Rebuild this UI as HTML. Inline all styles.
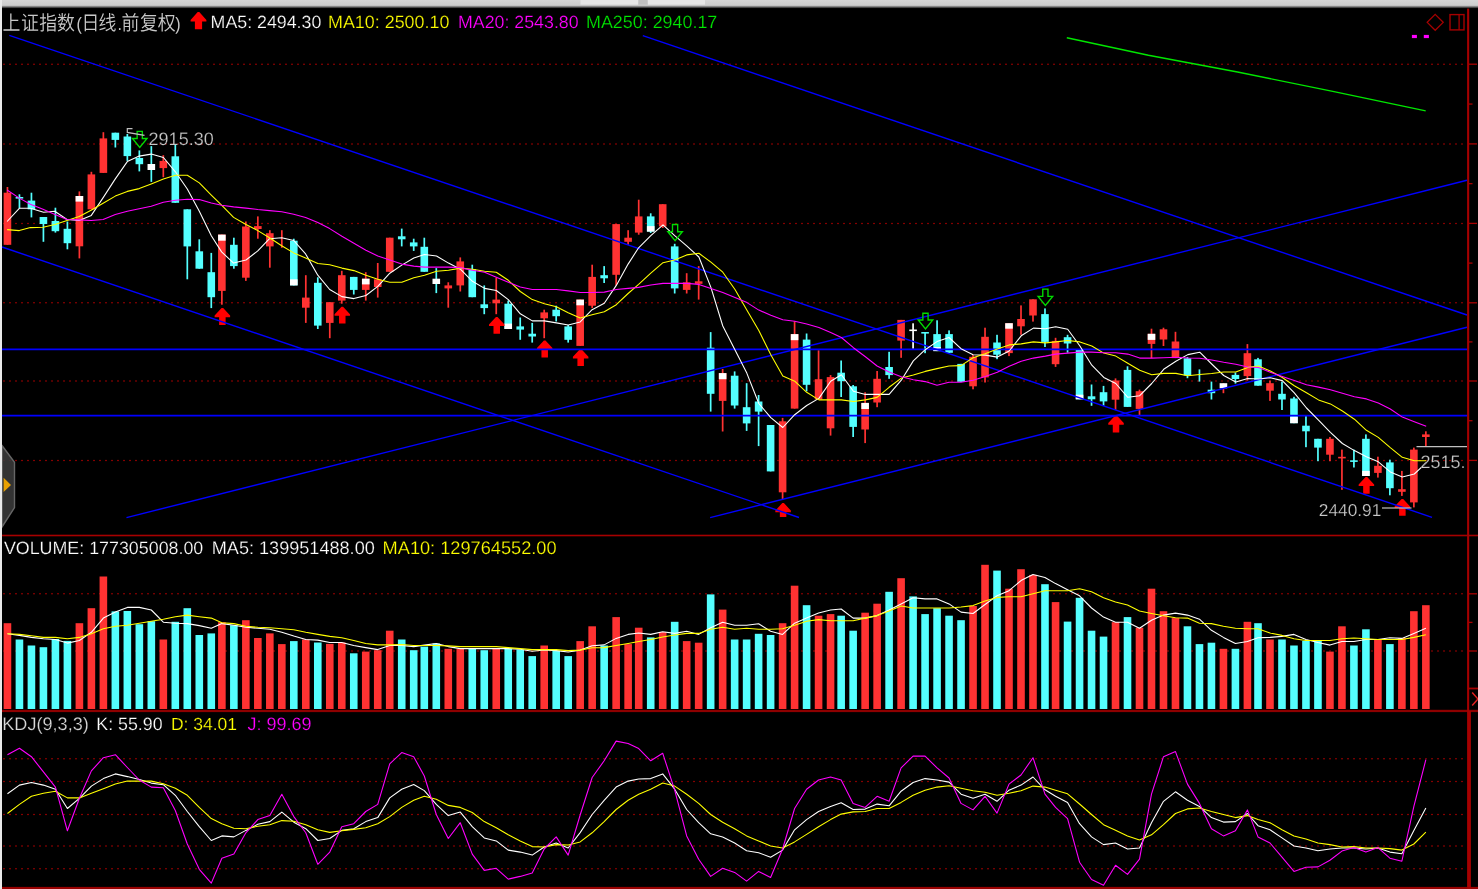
<!DOCTYPE html><html><head><meta charset="utf-8"><title>K</title><style>
html,body{margin:0;padding:0;background:#000;}body{width:1478px;height:889px;overflow:hidden;position:relative;}
svg{position:absolute;left:0;top:0;display:block;will-change:transform;}text{text-rendering:geometricPrecision;}
text{font-family:"Liberation Sans","Noto Sans CJK SC",sans-serif;}
.t{font-size:17.8px;stroke:#000;stroke-width:0.22px;}.cj{font-family:"Liberation Sans","Noto Sans CJK SC",sans-serif;font-weight:350;font-size:17.9px;}.pl{font-family:"Liberation Sans",sans-serif;font-size:16px;font-weight:400;}
.an{font-size:18px;fill:#C8C8C8;stroke:#000;stroke-width:0.22px;}
</style></head><body>
<svg width="1478" height="889" viewBox="0 0 1478 889">
<defs><linearGradient id="tg" x1="0" y1="0" x2="0" y2="1"><stop offset="0" stop-color="#D6D6D6"/><stop offset="0.62" stop-color="#CDCDCD"/><stop offset="0.8" stop-color="#707070"/><stop offset="1" stop-color="#000"/></linearGradient></defs>
<rect x="0" y="0" width="1478" height="889" fill="#000"/>
<g shape-rendering="auto">
<line x1="4" y1="64.2" x2="1463" y2="64.2" stroke="#C80000" stroke-width="1.5" stroke-linecap="round" stroke-dasharray="0.01 5.99"/>
<line x1="4" y1="143.9" x2="1463" y2="143.9" stroke="#C80000" stroke-width="1.5" stroke-linecap="round" stroke-dasharray="0.01 5.99"/>
<line x1="4" y1="223.4" x2="1463" y2="223.4" stroke="#C80000" stroke-width="1.5" stroke-linecap="round" stroke-dasharray="0.01 5.99"/>
<line x1="4" y1="302.8" x2="1463" y2="302.8" stroke="#C80000" stroke-width="1.5" stroke-linecap="round" stroke-dasharray="0.01 5.99"/>
<line x1="4" y1="381" x2="1463" y2="381" stroke="#C80000" stroke-width="1.5" stroke-linecap="round" stroke-dasharray="0.01 5.99"/>
<line x1="4" y1="460.4" x2="1463" y2="460.4" stroke="#C80000" stroke-width="1.5" stroke-linecap="round" stroke-dasharray="0.01 5.99"/>
<line x1="4" y1="593.8" x2="1463" y2="593.8" stroke="#C80000" stroke-width="1.5" stroke-linecap="round" stroke-dasharray="0.01 5.99"/>
<line x1="4" y1="651" x2="1463" y2="651" stroke="#C80000" stroke-width="1.5" stroke-linecap="round" stroke-dasharray="0.01 5.99"/>
<line x1="4" y1="758.7" x2="1463" y2="758.7" stroke="#C80000" stroke-width="1.5" stroke-linecap="round" stroke-dasharray="0.01 5.99"/>
<line x1="4" y1="781.5" x2="1463" y2="781.5" stroke="#C80000" stroke-width="1.5" stroke-linecap="round" stroke-dasharray="0.01 5.99"/>
<line x1="4" y1="814.5" x2="1463" y2="814.5" stroke="#C80000" stroke-width="1.5" stroke-linecap="round" stroke-dasharray="0.01 5.99"/>
<line x1="4" y1="846" x2="1463" y2="846" stroke="#C80000" stroke-width="1.5" stroke-linecap="round" stroke-dasharray="0.01 5.99"/>
<line x1="4" y1="868.7" x2="1463" y2="868.7" stroke="#C80000" stroke-width="1.5" stroke-linecap="round" stroke-dasharray="0.01 5.99"/>
</g>
<g id="candles">
<rect x="6.6" y="187" width="1.7" height="57.8" fill="#FF3232"/>
<rect x="3.65" y="192.7" width="7.6" height="52.1" fill="#FF3232"/>
<rect x="18.59" y="194.3" width="1.7" height="13.9" fill="#54FFFF"/>
<rect x="15.64" y="197" width="7.6" height="1.6" fill="#54FFFF"/>
<rect x="30.58" y="192.7" width="1.7" height="24.7" fill="#54FFFF"/>
<rect x="27.63" y="200.6" width="7.6" height="8.7" fill="#54FFFF"/>
<rect x="42.57" y="217" width="1.7" height="24.8" fill="#54FFFF"/>
<rect x="39.62" y="217" width="7.6" height="7" fill="#54FFFF"/>
<rect x="54.56" y="207.7" width="1.7" height="24.9" fill="#54FFFF"/>
<rect x="51.61" y="221" width="7.6" height="10.2" fill="#54FFFF"/>
<rect x="66.55" y="221.5" width="1.7" height="27.8" fill="#54FFFF"/>
<rect x="63.6" y="228.8" width="7.6" height="14.4" fill="#54FFFF"/>
<rect x="78.54" y="191.4" width="1.7" height="67" fill="#FF3232"/>
<rect x="75.59" y="196" width="7.6" height="50.3" fill="#FF3232"/>
<rect x="75.59" y="196" width="7.6" height="5.6" fill="#fff"/>
<rect x="90.53" y="171.8" width="1.7" height="37.5" fill="#FF3232"/>
<rect x="87.58" y="174.4" width="7.6" height="34.9" fill="#FF3232"/>
<rect x="102.52" y="132.2" width="1.7" height="40.7" fill="#FF3232"/>
<rect x="99.57" y="138.4" width="7.6" height="34.5" fill="#FF3232"/>
<rect x="114.51" y="132.7" width="1.7" height="14.8" fill="#54FFFF"/>
<rect x="111.56" y="132.7" width="7.6" height="7.2" fill="#54FFFF"/>
<rect x="126.5" y="134" width="1.7" height="26.9" fill="#54FFFF"/>
<rect x="123.55" y="136.5" width="7.6" height="19.6" fill="#54FFFF"/>
<rect x="138.49" y="150.4" width="1.7" height="21" fill="#54FFFF"/>
<rect x="135.54" y="158" width="7.6" height="6.2" fill="#54FFFF"/>
<rect x="150.48" y="146.1" width="1.7" height="35.8" fill="#54FFFF"/>
<rect x="147.53" y="164" width="7.6" height="6" fill="#FFFFFF"/>
<rect x="162.47" y="155.2" width="1.7" height="22" fill="#FF3232"/>
<rect x="159.52" y="160.9" width="7.6" height="7.2" fill="#FF3232"/>
<rect x="174.46" y="144.6" width="1.7" height="58.2" fill="#54FFFF"/>
<rect x="171.51" y="156.3" width="7.6" height="46.5" fill="#54FFFF"/>
<rect x="186.45" y="209.3" width="1.7" height="70" fill="#54FFFF"/>
<rect x="183.5" y="209.3" width="7.6" height="37.1" fill="#54FFFF"/>
<rect x="198.44" y="239.3" width="1.7" height="29.4" fill="#54FFFF"/>
<rect x="195.49" y="251.3" width="7.6" height="17.4" fill="#54FFFF"/>
<rect x="210.43" y="252.9" width="1.7" height="55.2" fill="#54FFFF"/>
<rect x="207.48" y="272.2" width="7.6" height="25" fill="#54FFFF"/>
<rect x="221.02" y="234.6" width="1.7" height="70.1" fill="#FF3232"/>
<rect x="218.07" y="234.6" width="7.6" height="56.3" fill="#FF3232"/>
<rect x="218.07" y="234.6" width="7.6" height="6.1" fill="#fff"/>
<rect x="233.01" y="237.7" width="1.7" height="31" fill="#54FFFF"/>
<rect x="230.06" y="244.8" width="7.6" height="21.3" fill="#54FFFF"/>
<rect x="245" y="221.5" width="1.7" height="59.4" fill="#FF3232"/>
<rect x="242.05" y="226.5" width="7.6" height="51.2" fill="#FF3232"/>
<rect x="256.99" y="216.4" width="1.7" height="22.3" fill="#FF3232"/>
<rect x="254.04" y="226.1" width="7.6" height="2.9" fill="#FF3232"/>
<rect x="268.98" y="230.2" width="1.7" height="37.5" fill="#FF3232"/>
<rect x="266.03" y="233.2" width="7.6" height="13.2" fill="#FF3232"/>
<rect x="280.97" y="230.2" width="1.7" height="17.6" fill="#FF3232"/>
<rect x="292.96" y="238.7" width="1.7" height="46.7" fill="#54FFFF"/>
<rect x="290.01" y="240.7" width="7.6" height="44.7" fill="#54FFFF"/>
<rect x="290.01" y="279.3" width="7.6" height="6.1" fill="#fff"/>
<rect x="304.95" y="275.2" width="1.7" height="47.7" fill="#FF3232"/>
<rect x="302" y="297.6" width="7.6" height="10.1" fill="#FF3232"/>
<rect x="316.94" y="277.3" width="1.7" height="51.7" fill="#54FFFF"/>
<rect x="313.99" y="282.8" width="7.6" height="42.8" fill="#54FFFF"/>
<rect x="328.93" y="302.2" width="1.7" height="36" fill="#FF3232"/>
<rect x="325.98" y="302.2" width="7.6" height="20.7" fill="#FF3232"/>
<rect x="340.92" y="270.8" width="1.7" height="32.9" fill="#FF3232"/>
<rect x="337.97" y="275.2" width="7.6" height="25.4" fill="#FF3232"/>
<rect x="352.91" y="276.9" width="1.7" height="17.6" fill="#54FFFF"/>
<rect x="349.96" y="276.9" width="7.6" height="13" fill="#54FFFF"/>
<rect x="364.9" y="272.2" width="1.7" height="28.4" fill="#FF3232"/>
<rect x="361.95" y="278.7" width="7.6" height="11.2" fill="#FF3232"/>
<rect x="361.95" y="278.7" width="7.6" height="5.7" fill="#fff"/>
<rect x="376.89" y="263" width="1.7" height="34.6" fill="#FF3232"/>
<rect x="373.94" y="279.3" width="7.6" height="7.7" fill="#FF3232"/>
<rect x="388.88" y="237.7" width="1.7" height="34.1" fill="#FF3232"/>
<rect x="385.93" y="237.7" width="7.6" height="34.1" fill="#FF3232"/>
<rect x="400.87" y="228.6" width="1.7" height="17.8" fill="#54FFFF"/>
<rect x="397.92" y="236.3" width="7.6" height="3" fill="#54FFFF"/>
<rect x="412.86" y="238.7" width="1.7" height="12.2" fill="#54FFFF"/>
<rect x="409.91" y="242.4" width="7.6" height="4" fill="#54FFFF"/>
<rect x="423.45" y="237.7" width="1.7" height="34.1" fill="#54FFFF"/>
<rect x="420.5" y="246.8" width="7.6" height="25" fill="#54FFFF"/>
<rect x="435.44" y="268.1" width="1.7" height="25" fill="#54FFFF"/>
<rect x="432.49" y="278.7" width="7.6" height="5.3" fill="#FFFFFF"/>
<rect x="447.43" y="282.3" width="1.7" height="25.4" fill="#FF3232"/>
<rect x="444.48" y="285.4" width="7.6" height="3" fill="#FF3232"/>
<rect x="459.42" y="257.4" width="1.7" height="34.1" fill="#FF3232"/>
<rect x="456.47" y="261.4" width="7.6" height="24" fill="#FF3232"/>
<rect x="471.41" y="264.7" width="1.7" height="32.5" fill="#54FFFF"/>
<rect x="468.46" y="269.2" width="7.6" height="28" fill="#54FFFF"/>
<rect x="483.4" y="285.4" width="1.7" height="28.8" fill="#54FFFF"/>
<rect x="480.45" y="304.3" width="7.6" height="3.8" fill="#54FFFF"/>
<rect x="495.39" y="277.7" width="1.7" height="36.5" fill="#FF3232"/>
<rect x="492.44" y="299.6" width="7.6" height="3.7" fill="#FF3232"/>
<rect x="507.38" y="300.6" width="1.7" height="28.4" fill="#54FFFF"/>
<rect x="504.43" y="303.7" width="7.6" height="25.3" fill="#54FFFF"/>
<rect x="504.43" y="323.6" width="7.6" height="5.4" fill="#fff"/>
<rect x="519.37" y="317.5" width="1.7" height="22.3" fill="#54FFFF"/>
<rect x="516.42" y="326.4" width="7.6" height="3.2" fill="#54FFFF"/>
<rect x="531.36" y="322.9" width="1.7" height="19.7" fill="#54FFFF"/>
<rect x="528.41" y="333.7" width="7.6" height="2.8" fill="#54FFFF"/>
<rect x="543.35" y="309.7" width="1.7" height="28.5" fill="#FF3232"/>
<rect x="540.4" y="312.4" width="7.6" height="5.9" fill="#FF3232"/>
<rect x="555.34" y="305.7" width="1.7" height="15.8" fill="#54FFFF"/>
<rect x="552.39" y="309.7" width="7.6" height="6.5" fill="#54FFFF"/>
<rect x="567.33" y="325" width="1.7" height="17.6" fill="#54FFFF"/>
<rect x="564.38" y="326.4" width="7.6" height="13.4" fill="#54FFFF"/>
<rect x="579.32" y="299.6" width="1.7" height="46.3" fill="#FF3232"/>
<rect x="576.37" y="299.6" width="7.6" height="46.3" fill="#FF3232"/>
<rect x="576.37" y="299.6" width="7.6" height="5.7" fill="#fff"/>
<rect x="591.31" y="264.7" width="1.7" height="43.4" fill="#FF3232"/>
<rect x="588.36" y="276.9" width="7.6" height="28.8" fill="#FF3232"/>
<rect x="603.3" y="266.1" width="1.7" height="16.9" fill="#54FFFF"/>
<rect x="600.35" y="275.2" width="7.6" height="3.1" fill="#54FFFF"/>
<rect x="615.29" y="224.1" width="1.7" height="61.3" fill="#FF3232"/>
<rect x="612.34" y="224.1" width="7.6" height="50.7" fill="#FF3232"/>
<rect x="627.28" y="230.2" width="1.7" height="14.6" fill="#FF3232"/>
<rect x="624.33" y="237.7" width="7.6" height="4.1" fill="#FF3232"/>
<rect x="637.87" y="199.7" width="1.7" height="35" fill="#FF3232"/>
<rect x="634.92" y="216.4" width="7.6" height="16.2" fill="#FF3232"/>
<rect x="649.86" y="213.3" width="1.7" height="19.7" fill="#54FFFF"/>
<rect x="646.91" y="216.4" width="7.6" height="15.2" fill="#54FFFF"/>
<rect x="646.91" y="226.1" width="7.6" height="5.5" fill="#fff"/>
<rect x="661.85" y="204.2" width="1.7" height="23.8" fill="#FF3232"/>
<rect x="658.9" y="204.2" width="7.6" height="22.3" fill="#FF3232"/>
<rect x="673.84" y="243.8" width="1.7" height="49.7" fill="#54FFFF"/>
<rect x="670.89" y="246.4" width="7.6" height="42" fill="#54FFFF"/>
<rect x="685.83" y="273.2" width="1.7" height="20.3" fill="#FF3232"/>
<rect x="682.88" y="282.3" width="7.6" height="7.6" fill="#FF3232"/>
<rect x="697.82" y="266.1" width="1.7" height="33.5" fill="#FF3232"/>
<rect x="694.87" y="281.3" width="7.6" height="2.5" fill="#FF3232"/>
<rect x="709.81" y="332.1" width="1.7" height="79.5" fill="#54FFFF"/>
<rect x="706.86" y="347.7" width="7.6" height="46.1" fill="#54FFFF"/>
<rect x="721.8" y="369" width="1.7" height="62.5" fill="#FF3232"/>
<rect x="718.85" y="373.1" width="7.6" height="27.8" fill="#FF3232"/>
<rect x="718.85" y="373.1" width="7.6" height="6.1" fill="#fff"/>
<rect x="733.79" y="371.4" width="1.7" height="37.2" fill="#54FFFF"/>
<rect x="730.84" y="375.7" width="7.6" height="29.8" fill="#54FFFF"/>
<rect x="745.78" y="383.2" width="1.7" height="47.7" fill="#54FFFF"/>
<rect x="742.83" y="407.2" width="7.6" height="16.2" fill="#54FFFF"/>
<rect x="757.77" y="395" width="1.7" height="51.1" fill="#54FFFF"/>
<rect x="754.82" y="401.5" width="7.6" height="10.1" fill="#54FFFF"/>
<rect x="769.76" y="425" width="1.7" height="46.4" fill="#54FFFF"/>
<rect x="766.81" y="425" width="7.6" height="46.4" fill="#54FFFF"/>
<rect x="781.75" y="417.9" width="1.7" height="81.6" fill="#FF3232"/>
<rect x="778.8" y="421.3" width="7.6" height="71" fill="#FF3232"/>
<rect x="793.74" y="321.3" width="1.7" height="87.3" fill="#FF3232"/>
<rect x="790.79" y="334.1" width="7.6" height="74.5" fill="#FF3232"/>
<rect x="790.79" y="334.1" width="7.6" height="6.1" fill="#fff"/>
<rect x="805.73" y="333.5" width="1.7" height="57.8" fill="#54FFFF"/>
<rect x="802.78" y="339.6" width="7.6" height="45.2" fill="#54FFFF"/>
<rect x="817.72" y="350.3" width="1.7" height="49.2" fill="#FF3232"/>
<rect x="814.77" y="379.2" width="7.6" height="20.3" fill="#FF3232"/>
<rect x="829.71" y="375.1" width="1.7" height="60.5" fill="#FF3232"/>
<rect x="826.76" y="377.1" width="7.6" height="51.2" fill="#FF3232"/>
<rect x="840.3" y="360.5" width="1.7" height="36.5" fill="#54FFFF"/>
<rect x="837.35" y="372.7" width="7.6" height="8.5" fill="#54FFFF"/>
<rect x="852.29" y="385" width="1.7" height="52" fill="#54FFFF"/>
<rect x="849.34" y="386.3" width="7.6" height="40.6" fill="#54FFFF"/>
<rect x="864.28" y="392.3" width="1.7" height="50.8" fill="#FF3232"/>
<rect x="861.33" y="402.9" width="7.6" height="26.6" fill="#FF3232"/>
<rect x="861.33" y="402.9" width="7.6" height="6.1" fill="#fff"/>
<rect x="876.27" y="371" width="1.7" height="36.2" fill="#FF3232"/>
<rect x="873.32" y="378.8" width="7.6" height="23.7" fill="#FF3232"/>
<rect x="888.26" y="351.8" width="1.7" height="27" fill="#54FFFF"/>
<rect x="885.31" y="367" width="7.6" height="8.1" fill="#54FFFF"/>
<rect x="900.25" y="319.9" width="1.7" height="37.9" fill="#FF3232"/>
<rect x="897.3" y="319.9" width="7.6" height="20.7" fill="#FF3232"/>
<rect x="912.24" y="323.3" width="1.7" height="25.4" fill="#FFFFFF"/>
<rect x="909.29" y="329.5" width="7.6" height="1.6" fill="#FFFFFF"/>
<rect x="924.23" y="332" width="1.7" height="21.2" fill="#54FFFF"/>
<rect x="921.28" y="332" width="7.6" height="1.6" fill="#54FFFF"/>
<rect x="936.22" y="320.3" width="1.7" height="30.8" fill="#54FFFF"/>
<rect x="933.27" y="334.1" width="7.6" height="17" fill="#54FFFF"/>
<rect x="933.27" y="347.1" width="7.6" height="4" fill="#fff"/>
<rect x="948.21" y="330.4" width="1.7" height="22.4" fill="#54FFFF"/>
<rect x="945.26" y="334.1" width="7.6" height="18.7" fill="#54FFFF"/>
<rect x="960.2" y="363.9" width="1.7" height="17.9" fill="#54FFFF"/>
<rect x="957.25" y="363.9" width="7.6" height="17.9" fill="#54FFFF"/>
<rect x="972.19" y="355" width="1.7" height="34.3" fill="#FF3232"/>
<rect x="969.24" y="356.8" width="7.6" height="29.5" fill="#FF3232"/>
<rect x="984.18" y="327.7" width="1.7" height="54.8" fill="#FF3232"/>
<rect x="981.23" y="336.8" width="7.6" height="40.6" fill="#FF3232"/>
<rect x="996.17" y="334.8" width="1.7" height="24.4" fill="#54FFFF"/>
<rect x="993.22" y="342.5" width="7.6" height="12.2" fill="#54FFFF"/>
<rect x="1008.16" y="323.2" width="1.7" height="32.9" fill="#FF3232"/>
<rect x="1005.21" y="323.2" width="7.6" height="29.9" fill="#FF3232"/>
<rect x="1005.21" y="323.2" width="7.6" height="5.5" fill="#fff"/>
<rect x="1020.15" y="305.4" width="1.7" height="29.4" fill="#FF3232"/>
<rect x="1017.2" y="319" width="7.6" height="7.3" fill="#FF3232"/>
<rect x="1032.14" y="299.3" width="1.7" height="22.3" fill="#FF3232"/>
<rect x="1029.19" y="299.3" width="7.6" height="16.2" fill="#FF3232"/>
<rect x="1044.13" y="308.4" width="1.7" height="38.6" fill="#54FFFF"/>
<rect x="1041.18" y="314.1" width="7.6" height="27.8" fill="#54FFFF"/>
<rect x="1054.72" y="337.8" width="1.7" height="29.1" fill="#FF3232"/>
<rect x="1051.77" y="340.9" width="7.6" height="23.3" fill="#FF3232"/>
<rect x="1066.71" y="334.8" width="1.7" height="17.9" fill="#54FFFF"/>
<rect x="1063.76" y="337.2" width="7.6" height="6.3" fill="#54FFFF"/>
<rect x="1078.7" y="349" width="1.7" height="50.3" fill="#54FFFF"/>
<rect x="1075.75" y="350" width="7.6" height="49.3" fill="#54FFFF"/>
<rect x="1075.75" y="394.7" width="7.6" height="4.6" fill="#fff"/>
<rect x="1090.69" y="384.5" width="1.7" height="21.3" fill="#54FFFF"/>
<rect x="1087.74" y="396.3" width="7.6" height="3" fill="#54FFFF"/>
<rect x="1102.68" y="385.9" width="1.7" height="19.9" fill="#54FFFF"/>
<rect x="1099.73" y="392.2" width="7.6" height="9.2" fill="#54FFFF"/>
<rect x="1114.67" y="378.4" width="1.7" height="31.5" fill="#FF3232"/>
<rect x="1111.72" y="380.5" width="7.6" height="19.2" fill="#FF3232"/>
<rect x="1126.66" y="366.3" width="1.7" height="40.6" fill="#54FFFF"/>
<rect x="1123.71" y="369.9" width="7.6" height="37" fill="#54FFFF"/>
<rect x="1138.65" y="389.6" width="1.7" height="25.4" fill="#FF3232"/>
<rect x="1135.7" y="391.2" width="7.6" height="17.7" fill="#FF3232"/>
<rect x="1150.64" y="328.7" width="1.7" height="29.4" fill="#FF3232"/>
<rect x="1147.69" y="333.8" width="7.6" height="10.1" fill="#FF3232"/>
<rect x="1147.69" y="333.8" width="7.6" height="6.1" fill="#fff"/>
<rect x="1162.63" y="327.7" width="1.7" height="18.3" fill="#FF3232"/>
<rect x="1159.68" y="329.3" width="7.6" height="10.2" fill="#FF3232"/>
<rect x="1174.62" y="331.8" width="1.7" height="26.3" fill="#FF3232"/>
<rect x="1171.67" y="341.5" width="7.6" height="16.6" fill="#FF3232"/>
<rect x="1186.61" y="357" width="1.7" height="21.2" fill="#54FFFF"/>
<rect x="1183.66" y="358.3" width="7.6" height="17.2" fill="#54FFFF"/>
<rect x="1198.6" y="369.4" width="1.7" height="12.2" fill="#54FFFF"/>
<rect x="1210.59" y="381.6" width="1.7" height="17.9" fill="#54FFFF"/>
<rect x="1207.64" y="389.7" width="7.6" height="3.5" fill="#54FFFF"/>
<rect x="1222.58" y="383.2" width="1.7" height="10" fill="#FF3232"/>
<rect x="1219.63" y="383.2" width="7.6" height="5.1" fill="#FFFFFF"/>
<rect x="1234.57" y="372.5" width="1.7" height="11.1" fill="#54FFFF"/>
<rect x="1231.62" y="374.9" width="7.6" height="4.1" fill="#54FFFF"/>
<rect x="1246.56" y="344.1" width="1.7" height="36.5" fill="#FF3232"/>
<rect x="1243.61" y="353.2" width="7.6" height="22.9" fill="#FF3232"/>
<rect x="1257.15" y="357.9" width="1.7" height="27.8" fill="#54FFFF"/>
<rect x="1254.2" y="359.3" width="7.6" height="26.4" fill="#54FFFF"/>
<rect x="1269.14" y="380.6" width="1.7" height="20.3" fill="#FF3232"/>
<rect x="1266.19" y="383.2" width="7.6" height="7.5" fill="#FF3232"/>
<rect x="1281.13" y="381.6" width="1.7" height="28.4" fill="#54FFFF"/>
<rect x="1278.18" y="393.8" width="7.6" height="5.7" fill="#54FFFF"/>
<rect x="1293.12" y="396.8" width="1.7" height="26.4" fill="#54FFFF"/>
<rect x="1290.17" y="398.5" width="7.6" height="24.7" fill="#54FFFF"/>
<rect x="1290.17" y="416.7" width="7.6" height="6.5" fill="#fff"/>
<rect x="1305.11" y="416.1" width="1.7" height="31.1" fill="#54FFFF"/>
<rect x="1302.16" y="425.7" width="7.6" height="5.6" fill="#54FFFF"/>
<rect x="1317.1" y="438.8" width="1.7" height="22.4" fill="#54FFFF"/>
<rect x="1314.15" y="438.8" width="7.6" height="8.8" fill="#54FFFF"/>
<rect x="1329.09" y="437" width="1.7" height="24.2" fill="#FF3232"/>
<rect x="1326.14" y="438.8" width="7.6" height="15.9" fill="#FF3232"/>
<rect x="1341.08" y="449.6" width="1.7" height="40.2" fill="#FF3232"/>
<rect x="1338.13" y="456.8" width="7.6" height="1.6" fill="#FF3232"/>
<rect x="1353.07" y="449.6" width="1.7" height="17.9" fill="#54FFFF"/>
<rect x="1350.12" y="460.3" width="7.6" height="1.6" fill="#54FFFF"/>
<rect x="1365.06" y="434.4" width="1.7" height="41.6" fill="#54FFFF"/>
<rect x="1362.11" y="438.8" width="7.6" height="37.2" fill="#54FFFF"/>
<rect x="1362.11" y="470.9" width="7.6" height="5.1" fill="#fff"/>
<rect x="1377.05" y="456.7" width="1.7" height="20.9" fill="#FF3232"/>
<rect x="1374.1" y="465.8" width="7.6" height="7.1" fill="#FF3232"/>
<rect x="1389.04" y="459.7" width="1.7" height="35.6" fill="#54FFFF"/>
<rect x="1386.09" y="462.4" width="7.6" height="25.8" fill="#54FFFF"/>
<rect x="1401.03" y="470.9" width="1.7" height="25" fill="#FF3232"/>
<rect x="1398.08" y="489.2" width="7.6" height="2.6" fill="#FF3232"/>
<rect x="1413.02" y="447.6" width="1.7" height="59.8" fill="#FF3232"/>
<rect x="1410.07" y="449.6" width="7.6" height="52.8" fill="#FF3232"/>
<rect x="1425.01" y="431.3" width="1.7" height="15.3" fill="#FF3232"/>
<rect x="1422.06" y="434.4" width="7.6" height="2.6" fill="#FF3232"/>
</g>
<g id="vol">
<rect x="3.65" y="623.2" width="7.6" height="85.8" fill="#FF3232"/>
<rect x="15.64" y="639.5" width="7.6" height="69.5" fill="#54FFFF"/>
<rect x="27.63" y="645.5" width="7.6" height="63.5" fill="#54FFFF"/>
<rect x="39.62" y="647.2" width="7.6" height="61.8" fill="#54FFFF"/>
<rect x="51.61" y="639" width="7.6" height="70" fill="#54FFFF"/>
<rect x="63.6" y="640.9" width="7.6" height="68.1" fill="#54FFFF"/>
<rect x="75.59" y="623.2" width="7.6" height="85.8" fill="#FF3232"/>
<rect x="87.58" y="608.2" width="7.6" height="100.8" fill="#FF3232"/>
<rect x="99.57" y="576.5" width="7.6" height="132.5" fill="#FF3232"/>
<rect x="111.56" y="611.4" width="7.6" height="97.6" fill="#54FFFF"/>
<rect x="123.55" y="611" width="7.6" height="98" fill="#54FFFF"/>
<rect x="135.54" y="624.2" width="7.6" height="84.8" fill="#54FFFF"/>
<rect x="147.53" y="621.2" width="7.6" height="87.8" fill="#54FFFF"/>
<rect x="159.52" y="639.5" width="7.6" height="69.5" fill="#FF3232"/>
<rect x="171.51" y="621.8" width="7.6" height="87.2" fill="#54FFFF"/>
<rect x="183.5" y="608.2" width="7.6" height="100.8" fill="#54FFFF"/>
<rect x="195.49" y="635" width="7.6" height="74" fill="#54FFFF"/>
<rect x="207.48" y="633.4" width="7.6" height="75.6" fill="#54FFFF"/>
<rect x="218.07" y="622.2" width="7.6" height="86.8" fill="#FF3232"/>
<rect x="230.06" y="625.2" width="7.6" height="83.8" fill="#54FFFF"/>
<rect x="242.05" y="620.2" width="7.6" height="88.8" fill="#FF3232"/>
<rect x="254.04" y="638" width="7.6" height="71" fill="#FF3232"/>
<rect x="266.03" y="633.4" width="7.6" height="75.6" fill="#FF3232"/>
<rect x="278.02" y="644.1" width="7.6" height="64.9" fill="#FF3232"/>
<rect x="290.01" y="641.1" width="7.6" height="67.9" fill="#54FFFF"/>
<rect x="302" y="639.5" width="7.6" height="69.5" fill="#FF3232"/>
<rect x="313.99" y="642.5" width="7.6" height="66.5" fill="#54FFFF"/>
<rect x="325.98" y="643.9" width="7.6" height="65.1" fill="#FF3232"/>
<rect x="337.97" y="642.5" width="7.6" height="66.5" fill="#FF3232"/>
<rect x="349.96" y="653.3" width="7.6" height="55.7" fill="#54FFFF"/>
<rect x="361.95" y="651.6" width="7.6" height="57.4" fill="#FF3232"/>
<rect x="373.94" y="650.2" width="7.6" height="58.8" fill="#FF3232"/>
<rect x="385.93" y="630.7" width="7.6" height="78.3" fill="#FF3232"/>
<rect x="397.92" y="639.5" width="7.6" height="69.5" fill="#54FFFF"/>
<rect x="409.91" y="650.2" width="7.6" height="58.8" fill="#54FFFF"/>
<rect x="420.5" y="646.6" width="7.6" height="62.4" fill="#54FFFF"/>
<rect x="432.49" y="643.5" width="7.6" height="65.5" fill="#54FFFF"/>
<rect x="444.48" y="648.8" width="7.6" height="60.2" fill="#FF3232"/>
<rect x="456.47" y="648.8" width="7.6" height="60.2" fill="#FF3232"/>
<rect x="468.46" y="648.8" width="7.6" height="60.2" fill="#54FFFF"/>
<rect x="480.45" y="650.2" width="7.6" height="58.8" fill="#54FFFF"/>
<rect x="492.44" y="648.8" width="7.6" height="60.2" fill="#FF3232"/>
<rect x="504.43" y="648.8" width="7.6" height="60.2" fill="#54FFFF"/>
<rect x="516.42" y="649.6" width="7.6" height="59.4" fill="#54FFFF"/>
<rect x="528.41" y="656.1" width="7.6" height="52.9" fill="#54FFFF"/>
<rect x="540.4" y="645.5" width="7.6" height="63.5" fill="#FF3232"/>
<rect x="552.39" y="650.6" width="7.6" height="58.4" fill="#54FFFF"/>
<rect x="564.38" y="656.1" width="7.6" height="52.9" fill="#54FFFF"/>
<rect x="576.37" y="641.1" width="7.6" height="67.9" fill="#FF3232"/>
<rect x="588.36" y="626.3" width="7.6" height="82.7" fill="#FF3232"/>
<rect x="600.35" y="645.5" width="7.6" height="63.5" fill="#54FFFF"/>
<rect x="612.34" y="617.1" width="7.6" height="91.9" fill="#FF3232"/>
<rect x="624.33" y="644.1" width="7.6" height="64.9" fill="#FF3232"/>
<rect x="634.92" y="627.7" width="7.6" height="81.3" fill="#FF3232"/>
<rect x="646.91" y="637.4" width="7.6" height="71.6" fill="#54FFFF"/>
<rect x="658.9" y="632" width="7.6" height="77" fill="#FF3232"/>
<rect x="670.89" y="621.8" width="7.6" height="87.2" fill="#54FFFF"/>
<rect x="682.88" y="641.1" width="7.6" height="67.9" fill="#FF3232"/>
<rect x="694.87" y="642.7" width="7.6" height="66.3" fill="#FF3232"/>
<rect x="706.86" y="594.4" width="7.6" height="114.6" fill="#54FFFF"/>
<rect x="718.85" y="609.6" width="7.6" height="99.4" fill="#FF3232"/>
<rect x="730.84" y="639.5" width="7.6" height="69.5" fill="#54FFFF"/>
<rect x="742.83" y="639.5" width="7.6" height="69.5" fill="#54FFFF"/>
<rect x="754.82" y="633.8" width="7.6" height="75.2" fill="#54FFFF"/>
<rect x="766.81" y="635" width="7.6" height="74" fill="#54FFFF"/>
<rect x="778.8" y="623.2" width="7.6" height="85.8" fill="#FF3232"/>
<rect x="790.79" y="585.7" width="7.6" height="123.3" fill="#FF3232"/>
<rect x="802.78" y="605.2" width="7.6" height="103.8" fill="#54FFFF"/>
<rect x="814.77" y="615.7" width="7.6" height="93.3" fill="#FF3232"/>
<rect x="826.76" y="614.1" width="7.6" height="94.9" fill="#FF3232"/>
<rect x="837.35" y="615.7" width="7.6" height="93.3" fill="#54FFFF"/>
<rect x="849.34" y="630.7" width="7.6" height="78.3" fill="#54FFFF"/>
<rect x="861.33" y="612.7" width="7.6" height="96.3" fill="#FF3232"/>
<rect x="873.32" y="603.7" width="7.6" height="105.3" fill="#FF3232"/>
<rect x="885.31" y="591.8" width="7.6" height="117.2" fill="#54FFFF"/>
<rect x="897.3" y="578.2" width="7.6" height="130.8" fill="#FF3232"/>
<rect x="909.29" y="596.4" width="7.6" height="112.6" fill="#54FFFF"/>
<rect x="921.28" y="614.1" width="7.6" height="94.9" fill="#54FFFF"/>
<rect x="933.27" y="608.2" width="7.6" height="100.8" fill="#54FFFF"/>
<rect x="945.26" y="615.7" width="7.6" height="93.3" fill="#54FFFF"/>
<rect x="957.25" y="620.2" width="7.6" height="88.8" fill="#54FFFF"/>
<rect x="969.24" y="606" width="7.6" height="103" fill="#FF3232"/>
<rect x="981.23" y="564.8" width="7.6" height="144.2" fill="#FF3232"/>
<rect x="993.22" y="570.6" width="7.6" height="138.4" fill="#54FFFF"/>
<rect x="1005.21" y="588.7" width="7.6" height="120.3" fill="#FF3232"/>
<rect x="1017.2" y="569.2" width="7.6" height="139.8" fill="#FF3232"/>
<rect x="1029.19" y="574.9" width="7.6" height="134.1" fill="#FF3232"/>
<rect x="1041.18" y="584.2" width="7.6" height="124.8" fill="#54FFFF"/>
<rect x="1051.77" y="602.1" width="7.6" height="106.9" fill="#FF3232"/>
<rect x="1063.76" y="621.6" width="7.6" height="87.4" fill="#54FFFF"/>
<rect x="1075.75" y="597.8" width="7.6" height="111.2" fill="#54FFFF"/>
<rect x="1087.74" y="630.7" width="7.6" height="78.3" fill="#54FFFF"/>
<rect x="1099.73" y="636.6" width="7.6" height="72.4" fill="#54FFFF"/>
<rect x="1111.72" y="622.2" width="7.6" height="86.8" fill="#FF3232"/>
<rect x="1123.71" y="617.1" width="7.6" height="91.9" fill="#54FFFF"/>
<rect x="1135.7" y="627.7" width="7.6" height="81.3" fill="#FF3232"/>
<rect x="1147.69" y="588.7" width="7.6" height="120.3" fill="#FF3232"/>
<rect x="1159.68" y="611.2" width="7.6" height="97.8" fill="#FF3232"/>
<rect x="1171.67" y="618.1" width="7.6" height="90.9" fill="#FF3232"/>
<rect x="1183.66" y="626.3" width="7.6" height="82.7" fill="#54FFFF"/>
<rect x="1195.65" y="644.1" width="7.6" height="64.9" fill="#54FFFF"/>
<rect x="1207.64" y="642.7" width="7.6" height="66.3" fill="#54FFFF"/>
<rect x="1219.63" y="648.8" width="7.6" height="60.2" fill="#FF3232"/>
<rect x="1231.62" y="648.8" width="7.6" height="60.2" fill="#54FFFF"/>
<rect x="1243.61" y="621.8" width="7.6" height="87.2" fill="#FF3232"/>
<rect x="1254.2" y="623.2" width="7.6" height="85.8" fill="#54FFFF"/>
<rect x="1266.19" y="639.5" width="7.6" height="69.5" fill="#FF3232"/>
<rect x="1278.18" y="639.5" width="7.6" height="69.5" fill="#54FFFF"/>
<rect x="1290.17" y="645.5" width="7.6" height="63.5" fill="#54FFFF"/>
<rect x="1302.16" y="640.9" width="7.6" height="68.1" fill="#54FFFF"/>
<rect x="1314.15" y="640.9" width="7.6" height="68.1" fill="#54FFFF"/>
<rect x="1326.14" y="651.6" width="7.6" height="57.4" fill="#FF3232"/>
<rect x="1338.13" y="626.3" width="7.6" height="82.7" fill="#FF3232"/>
<rect x="1350.12" y="645.5" width="7.6" height="63.5" fill="#54FFFF"/>
<rect x="1362.11" y="629.3" width="7.6" height="79.7" fill="#54FFFF"/>
<rect x="1374.1" y="639.5" width="7.6" height="69.5" fill="#FF3232"/>
<rect x="1386.09" y="644.1" width="7.6" height="64.9" fill="#54FFFF"/>
<rect x="1398.08" y="638" width="7.6" height="71" fill="#FF3232"/>
<rect x="1410.07" y="611.2" width="7.6" height="97.8" fill="#FF3232"/>
<rect x="1422.06" y="605.2" width="7.6" height="103.8" fill="#FF3232"/>
</g>
<g id="arrows">
<polygon points="221.57,308.1 223.17,308.1 230.12,315.6 230.12,317.2 225.62,317.2 225.62,324.9 219.12,324.9 219.12,317.2 214.62,317.2 214.62,315.6" fill="#FF0000"/>
<polygon points="341.47,306.7 343.07,306.7 350.02,314.2 350.02,315.8 345.52,315.8 345.52,323.5 339.02,323.5 339.02,315.8 334.52,315.8 334.52,314.2" fill="#FF0000"/>
<polygon points="495.94,316.9 497.54,316.9 504.49,324.4 504.49,326 499.99,326 499.99,333.7 493.49,333.7 493.49,326 488.99,326 488.99,324.4" fill="#FF0000"/>
<polygon points="543.9,340.6 545.5,340.6 552.45,348.1 552.45,349.7 547.95,349.7 547.95,357.4 541.45,357.4 541.45,349.7 536.95,349.7 536.95,348.1" fill="#FF0000"/>
<polygon points="579.87,349.3 581.47,349.3 588.42,356.8 588.42,358.4 583.92,358.4 583.92,366.1 577.42,366.1 577.42,358.4 572.92,358.4 572.92,356.8" fill="#FF0000"/>
<polygon points="782.3,503.1 783.9,503.1 790.85,510.6 790.85,512.2 786.35,512.2 786.35,517.1 779.85,517.1 779.85,512.2 775.35,512.2 775.35,510.6" fill="#FF0000"/>
<polygon points="1115.22,415.6 1116.82,415.6 1123.77,423.1 1123.77,424.7 1119.27,424.7 1119.27,432.4 1112.77,432.4 1112.77,424.7 1108.27,424.7 1108.27,423.1" fill="#FF0000"/>
<polygon points="1365.61,477 1367.21,477 1374.16,484.5 1374.16,486.1 1369.66,486.1 1369.66,493.8 1363.16,493.8 1363.16,486.1 1358.66,486.1 1358.66,484.5" fill="#FF0000"/>
<polygon points="1401.58,498.9 1403.18,498.9 1410.13,506.4 1410.13,508 1405.63,508 1405.63,515.7 1399.13,515.7 1399.13,508 1394.63,508 1394.63,506.4" fill="#FF0000"/>
</g>
<g id="trend" stroke="#0000FF" fill="none">
<line x1="9.3" y1="35.3" x2="1432" y2="517.3" stroke-width="1.4"/>
<line x1="2" y1="247" x2="799" y2="517.5" stroke-width="1.4"/>
<line x1="642.8" y1="35.7" x2="1467" y2="315" stroke-width="1.4"/>
<line x1="126.5" y1="517.6" x2="1467" y2="180.3" stroke-width="1.4"/>
<line x1="710.1" y1="517.6" x2="1467" y2="327.3" stroke-width="1.4"/>
<line x1="2" y1="349.4" x2="1467.5" y2="349.4" stroke-width="1.9"/>
<line x1="2" y1="415.6" x2="1467.5" y2="415.6" stroke-width="1.9"/>
</g>
<g id="ma">
<polyline points="7.1,221.5 19.3,208.3 30.4,208.3 43.6,212.3 54.8,211.3 67,219.5 79.2,220.5 91.3,215.4 103.5,197.1 115.3,178.9 127.3,161.6 139.2,156.1 151.2,154.1 163.4,157.5 175.4,171.8 187.3,189 199.3,211.3 211.3,235.7 221.6,251.9 233.6,263.1 246,260 257.8,250.9 269.5,238.7 281.7,237.7 293.7,240.5 305.6,253.9 317.8,275.2 329.7,289.5 341.9,296.6 353.9,298.6 365.9,295.5 377.8,286.4 389.8,273.2 401.8,265.1 413.8,258 424.5,254.5 436.5,256 448.5,263.1 460.4,269.2 472.4,281.3 484.6,288.4 496.3,290.5 508.3,299.6 520.3,313.8 532.3,320.9 544.4,320.9 556.4,322.9 568.2,325 580.2,321.9 592.1,309.7 604.3,303.3 616.3,285.4 628.1,264.1 638.6,247.8 650.8,235.7 663,224.9 674.7,235.7 686.7,245.8 698.9,257 710.9,287.4 722.8,326 734.9,349.7 746.8,373.1 758.8,403.5 770.8,417.7 782.8,427.5 794.7,414.7 806.7,405.5 818.9,398.4 830.7,381.2 841.4,374.7 853.4,391.3 865.4,394.4 877.1,394.4 889.1,394.4 901.3,380.2 913.3,360.9 925.2,349.7 937,341.6 949,337.5 961,348.7 973.1,354.8 985.3,355.1 997.3,357.1 1009.2,351 1021.2,335.8 1033.4,328.1 1045.4,328.7 1055.7,326.7 1067.7,329.3 1079.9,346 1091.8,365.2 1103.8,377.4 1115.8,383.5 1127.8,397.3 1139.7,395.7 1151.7,383.5 1163.7,369.3 1175.9,361.2 1187.8,354.6 1199.7,352.2 1211.7,364 1223.7,375.5 1235.8,382 1247.8,378.5 1258.4,379 1270.3,377.8 1282.3,380.6 1294.3,392.8 1306.5,408 1318.5,420.2 1330.4,432.3 1342.4,443.5 1354.4,450.6 1366.4,456.7 1378.3,461.8 1390.3,471.9 1402.3,477 1414.3,474 1426.2,462.8" fill="none" stroke="#FFFFFF" stroke-width="1.08" stroke-linejoin="round"/>
<polyline points="7.1,229.6 19.3,230.6 30.4,227.6 43,227.2 55,224.5 67,220.5 79.2,216.4 91.1,210.3 103.1,203.2 115.3,196.1 127.3,191.4 139.2,188.6 151.2,183.9 163.4,178.9 175.4,175.2 187.3,175.2 199.3,182.9 211.3,195.1 221.6,205.2 233.6,217.4 246,224.5 257.8,230.6 269.5,237.7 281.7,245.8 293.7,252.9 305.6,258 317.8,263.5 329.7,264.7 341.9,268.1 353.9,270.6 365.9,275.2 377.8,279.3 389.8,282.3 401.8,282.3 413.8,277.7 424.5,275.2 436.5,271.2 448.5,270.2 460.4,268.1 472.4,269.2 484.6,271.2 496.3,272.2 508.3,280.3 520.3,291.5 532.3,299.6 544.4,303.7 556.4,306.7 568.2,312.8 580.2,317.9 592.1,314.8 604.3,311.8 616.3,304.7 628.1,293.5 638.6,284.4 650.8,273.2 663,262.7 674.7,260 686.7,254.9 698.9,253.3 710.9,262.1 722.8,272.2 735,289.5 746.8,310.1 758.8,330.4 770.8,354.8 782.8,376.1 794.7,381.2 806.7,392.3 818.9,399.9 830.7,399.9 841.4,399.9 853.4,401.5 865.4,399.9 877.1,397.4 889.1,387.3 901.3,378.1 913.3,375.1 925.2,371.4 937,368.6 949,366 961,365.6 973.1,357.8 985.1,353.8 997.3,349 1009.2,344.9 1021.2,343.9 1033.4,341.9 1045.4,342.9 1055.7,341.9 1067.7,340.5 1079.9,341.9 1091.8,346 1103.8,353.1 1115.8,356.1 1127.8,363.2 1139.7,370.3 1151.7,374.8 1163.7,373.4 1175.9,373.4 1187.8,375.8 1199.7,374.5 1211.7,373.5 1223.7,372 1235.8,372 1247.8,367.4 1258.4,366 1270.3,371 1282.3,377.5 1294.3,385.7 1306.5,392.8 1318.5,399.9 1330.4,403.9 1342.4,411 1354.4,419.2 1366.4,430.3 1378.3,437.4 1390.3,447.6 1402.3,457.3 1414.3,460.8 1426.2,460.8" fill="none" stroke="#FFFF00" stroke-width="1.08" stroke-linejoin="round"/>
<polyline points="7.1,190 19.3,198.1 30.4,204.2 43,209.3 55,214.4 67,219.5 79.2,219.9 91.1,220.5 103.1,219.5 115.3,214.4 127.3,211.3 139.2,208.7 151.2,206.3 163.4,202.2 175.4,200.2 187.3,199.2 199.3,199.6 211.3,203 221.6,205.2 233.6,206.9 246,208.1 257.8,209.5 269.5,210.6 281.7,211.8 293.7,214.3 305.6,217.4 317.8,222.5 329.7,228.6 341.9,236.3 353.9,243.2 365.9,250.3 377.8,256 389.8,260 401.8,264.1 413.8,266.1 424.5,267.1 436.5,267.1 448.5,267.1 460.4,267.6 472.4,270.2 484.6,272.2 496.3,277.3 508.3,282.3 520.3,287 532.3,289.5 544.4,289.5 556.4,289.5 568.2,290.9 580.2,292.5 592.1,292.5 604.3,292.1 616.3,289.5 628.1,288.4 638.6,287.4 650.8,285 663,283.4 674.7,283.4 686.7,283.4 698.9,284.4 710.9,288.4 722.8,292.5 735,297.6 747,302.6 758.8,310.1 770.8,315.2 782.8,319.7 794.7,321.3 806.7,324 818.9,327.4 830.7,332.5 841.4,337.5 853.4,347.7 865.4,356.8 877.1,366 889.1,372.1 901.3,376.7 913.3,379.8 925.2,381.6 937,385.2 949,382.2 961,382.2 973.1,380.2 985.3,376.5 997.3,372.3 1009.2,366.3 1021.2,361.2 1033.4,358.1 1045.4,356.1 1055.7,354.1 1067.7,353.1 1079.9,352.1 1091.8,352.1 1103.8,352.7 1115.8,352.7 1127.8,354.1 1139.7,358.1 1151.7,358.1 1163.7,357.7 1175.9,357.3 1187.8,358 1199.7,358.2 1211.7,360 1223.7,362.3 1235.8,364.3 1247.8,367 1258.4,367.5 1270.3,372.2 1282.3,376.5 1294.3,380.6 1306.5,384.7 1318.5,387.1 1330.4,389.7 1342.4,393.2 1354.4,396.8 1366.4,398.9 1378.3,402.9 1390.3,409 1402.3,417.1 1414.3,421.8 1426.2,426.3" fill="none" stroke="#FF00FF" stroke-width="1.08" stroke-linejoin="round"/>
<polyline points="1066.8,37.8 1148.4,55.3 1237.5,72 1334,91.6 1425.7,110.9" fill="none" stroke="#00E600" stroke-width="1.4" stroke-linejoin="round"/>
</g>
<g id="green">
<polygon points="137.14,131.3 142.34,131.3 142.34,138.5 147.04,138.5 139.74,147.5 132.44,138.5 137.14,138.5" fill="none" stroke="#00DC00" stroke-width="1.35" stroke-linejoin="miter"/>
<polygon points="672.49,224.5 677.69,224.5 677.69,231.7 682.39,231.7 675.09,240.7 667.79,231.7 672.49,231.7" fill="none" stroke="#00DC00" stroke-width="1.35" stroke-linejoin="miter"/>
<polygon points="922.88,313.2 928.08,313.2 928.08,320 932.78,320 925.48,329 918.18,320 922.88,320" fill="none" stroke="#00DC00" stroke-width="1.35" stroke-linejoin="miter"/>
<polygon points="1042.78,289.1 1047.98,289.1 1047.98,296.4 1052.68,296.4 1045.38,305.4 1038.08,296.4 1042.78,296.4" fill="none" stroke="#00DC00" stroke-width="1.35" stroke-linejoin="miter"/>
</g>
<g id="vma">
<polyline points="7.45,633.8 19.44,635.4 31.43,637.4 43.42,638.8 55.41,639.5 67.4,643.1 79.39,640.5 91.38,632.3 103.37,618.1 115.36,612.1 127.35,607.4 139.34,607.4 151.33,610 163.32,622.2 175.31,623.2 187.3,623.6 199.29,625.6 211.28,628.3 221.87,623.6 233.86,625.2 245.85,627.3 257.84,628.3 269.83,629.3 281.82,632.3 293.81,636.1 305.8,639.5 317.79,640.1 329.78,642.5 341.77,642.5 353.76,645.5 365.75,647.6 377.74,649.6 389.73,645.5 401.72,645.5 413.71,646.6 424.3,645.1 436.29,643.5 448.28,646.6 460.27,648.6 472.26,648.6 484.25,648.6 496.24,648.6 508.23,648.6 520.22,649.2 532.21,651.2 544.2,650 556.19,650.6 568.18,652 580.17,650.1 592.16,645.8 604.15,644.9 616.14,638.4 628.13,634.4 638.72,633 650.71,634.4 662.7,631.7 674.69,633.4 686.68,631.3 698.67,634.4 710.66,627.7 722.65,622.2 734.64,625.2 746.63,625.2 758.62,623.8 770.61,631.3 782.6,634.4 794.59,623.2 806.58,618.1 818.57,613.1 830.56,610 841.15,609 853.14,618.1 865.13,618.1 877.12,615.6 889.11,610 901.1,603.9 913.09,597.8 925.08,598.9 937.07,598.9 949.06,603.9 961.05,612.1 973.04,613.5 985.03,604.5 997.02,595.8 1009.01,590.7 1021,580.6 1032.99,574.5 1044.98,577.5 1055.57,583.6 1067.56,589.7 1079.55,595.8 1091.54,608 1103.53,617.1 1115.52,622.2 1127.51,622.2 1139.5,628.3 1151.49,620.2 1163.48,615.1 1175.47,613.1 1187.46,615.1 1199.45,619.2 1211.44,630.3 1223.43,637.4 1235.42,643.5 1247.41,641.5 1258,637.8 1269.99,637.4 1281.98,636.4 1293.97,634.4 1305.96,639.5 1317.95,642.5 1329.94,645.1 1341.93,641.5 1353.92,641.5 1365.91,639.5 1377.9,639.5 1389.89,637.8 1401.88,638.4 1413.87,633.4 1425.86,628.3" fill="none" stroke="#FFFFFF" stroke-width="1.08" stroke-linejoin="round"/>
<polyline points="7.45,633.8 19.44,634.4 31.43,635.8 43.42,637.4 55.41,637.4 67.4,638.8 79.39,637.4 91.38,633.8 103.37,628.7 115.36,626.3 127.35,625.2 139.34,623.2 151.33,621.2 163.32,619.2 175.31,616.7 187.3,615.1 199.29,616.7 211.28,618.1 221.87,622.8 233.86,623.6 245.85,626.3 257.84,627.3 269.83,627.7 281.82,628.7 293.81,629.8 305.8,632.3 317.79,634.4 329.78,636.4 341.77,637.8 353.76,640.5 365.75,643.5 377.74,644.9 389.73,644.9 401.72,644.5 413.71,645.5 424.3,645.5 436.29,645.5 448.28,645.9 460.27,646.6 472.26,646.6 484.25,646.6 496.24,646.6 508.23,647.6 520.22,648.6 532.21,649.6 544.2,649.6 556.19,649.6 568.18,650.6 580.17,650.1 592.16,647.8 604.15,647.6 616.14,645.5 628.13,643.5 638.72,641.5 650.71,639.5 662.7,637 674.69,635 686.68,633.4 698.67,633.4 710.66,629.3 722.65,627.3 734.64,629.3 746.63,628.3 758.62,629.3 770.61,629.3 782.6,628.7 794.59,625.2 806.58,621.2 818.57,619.6 830.56,620.8 841.15,620.8 853.14,620.8 865.13,618.1 877.12,615.6 889.11,611 901.1,606 913.09,608 925.08,608 937.07,608 949.06,608 961.05,607 973.04,605.6 985.03,600.9 997.02,597.4 1009.01,596.8 1021,596.8 1032.99,593.8 1044.98,590.7 1055.57,590.7 1067.56,590.7 1079.55,588.7 1091.54,591.8 1103.53,597.8 1115.52,601.9 1127.51,604.9 1139.5,611 1151.49,613.5 1163.48,615.8 1175.47,617.7 1187.46,618.1 1199.45,623.2 1211.44,623.6 1223.43,626.3 1235.42,628.3 1247.41,628.7 1258,628.7 1269.99,633 1281.98,635.4 1293.97,638.8 1305.96,640.5 1317.95,640.5 1329.94,640.5 1341.93,638.8 1353.92,638 1365.91,638.8 1377.9,639.5 1389.89,639.5 1401.88,639.5 1413.87,637.4 1425.86,634.8" fill="none" stroke="#FFFF00" stroke-width="1.08" stroke-linejoin="round"/>
</g>
<g id="kdj">
<polyline points="7.45,793.8 19.44,785.1 31.43,782.5 43.42,785.1 55.41,789.2 67.4,808.5 79.39,798.3 91.38,786.1 103.37,778.6 115.36,773.9 127.35,776.6 139.34,779.6 151.33,783.1 163.32,784.7 175.31,795.3 187.3,811.5 199.29,826.7 211.28,840.5 221.87,835.9 233.86,836.9 245.85,830.4 257.84,824.3 269.83,821.6 281.82,812.1 293.81,822.2 305.8,828.7 317.79,840.5 329.78,838.5 341.77,830.4 353.76,828.7 365.75,821.6 377.74,817.6 389.73,797.9 401.72,789.2 413.71,784.5 424.3,790.6 436.29,804.4 448.28,815.6 460.27,812.1 472.26,826.7 484.25,837.9 496.24,840.9 508.23,850.1 520.22,852.1 532.21,855.1 544.2,847 556.19,843 568.18,848 580.17,832.6 592.16,814.5 604.15,800.3 616.14,787.1 628.13,781.1 638.72,779 650.71,778.6 662.7,773.9 674.69,789.2 686.68,809.5 698.67,822.7 710.66,833.8 722.65,836.9 734.64,843 746.63,850.7 758.62,852.7 770.61,857.2 782.6,850.1 794.59,829.8 806.58,819.6 818.57,811.5 830.56,806.4 841.15,802.8 853.14,809.5 865.13,809.1 877.12,804.1 889.11,805.8 901.1,791.2 913.09,782.5 925.08,778.6 937.07,780 949.06,782.1 961.05,794.2 973.04,798.3 985.03,794.2 997.02,801.3 1009.01,790.2 1021,785.1 1032.99,777 1044.98,789.8 1055.57,796.3 1067.56,802.4 1079.55,823.7 1091.54,836.9 1103.53,844.6 1115.52,843 1127.51,849 1139.5,848 1151.49,822.7 1163.48,801.3 1175.47,791.8 1187.46,800.3 1199.45,806.4 1211.44,817.6 1223.43,822.1 1235.42,821.6 1247.41,813.5 1258,825.7 1269.99,829.8 1281.98,837.9 1293.97,846 1305.96,848 1317.95,850.7 1329.94,849 1341.93,848 1353.92,848 1365.91,849 1377.9,848 1389.89,852.1 1401.88,853.7 1413.87,830.4 1425.86,808" fill="none" stroke="#FFFFFF" stroke-width="1.08" stroke-linejoin="round"/>
<polyline points="7.45,813.5 19.44,804.4 31.43,796.3 43.42,793.2 55.41,791.2 67.4,797.9 79.39,797.9 91.38,793.2 103.37,788.8 115.36,784.1 127.35,781.1 139.34,781.1 151.33,781.1 163.32,783.7 175.31,788.2 187.3,795.3 199.29,807.4 211.28,818.6 221.87,823.7 233.86,828.3 245.85,828.7 257.84,826.3 269.83,824.7 281.82,820.6 293.81,821.2 305.8,824.7 317.79,829.8 329.78,832.4 341.77,830.8 353.76,829.4 365.75,827.7 377.74,823.7 389.73,816.6 401.72,807.4 413.71,800.3 424.3,796.3 436.29,799.3 448.28,805.4 460.27,807.4 472.26,812.5 484.25,821.6 496.24,827.7 508.23,834.8 520.22,840.9 532.21,846.6 544.2,847 556.19,844.6 568.18,845 580.17,841.9 592.16,832.8 604.15,821.6 616.14,809.5 628.13,800.3 638.72,794.2 650.71,789.2 662.7,783.1 674.69,786.1 686.68,794.2 698.67,803.4 710.66,814.5 722.65,822.3 734.64,828.7 746.63,835.9 758.62,840.9 770.61,846 782.6,848 794.59,841.9 806.58,834.4 818.57,826.7 830.56,819.6 841.15,814.1 853.14,811.9 865.13,811.5 877.12,808.5 889.11,808.5 901.1,802.4 913.09,795.3 925.08,790.2 937.07,787.1 949.06,785.7 961.05,788.2 973.04,790.8 985.03,792.2 997.02,795.3 1009.01,793.2 1021,790.8 1032.99,786.1 1044.98,787.1 1055.57,790.2 1067.56,793.8 1079.55,804 1091.54,814.5 1103.53,824.7 1115.52,830.2 1127.51,835.9 1139.5,839.9 1151.49,834.8 1163.48,824.7 1175.47,813.5 1187.46,808.9 1199.45,808 1211.44,811.5 1223.43,814.5 1235.42,817.6 1247.41,815.6 1258,819.6 1269.99,822.7 1281.98,829.8 1293.97,835.9 1305.96,838.9 1317.95,843 1329.94,844.6 1341.93,847 1353.92,846.6 1365.91,848 1377.9,848 1389.89,848.6 1401.88,850.1 1413.87,844 1425.86,832.2" fill="none" stroke="#FFFF00" stroke-width="1.08" stroke-linejoin="round"/>
<polyline points="7.45,754.7 19.44,748.2 31.43,756.7 43.42,771.9 55.41,787.1 67.4,830.8 79.39,798.3 91.38,770.9 103.37,757.7 115.36,754.7 127.35,767.5 139.34,780 151.33,787.1 163.32,787.7 175.31,810.5 187.3,844 199.29,869.3 211.28,883.1 221.87,858.2 233.86,854.1 245.85,832.8 257.84,819.6 269.83,815.6 281.82,794.2 293.81,816.6 305.8,832.8 317.79,864.3 329.78,852.1 341.77,826.7 353.76,823.7 365.75,811.5 377.74,804.4 389.73,763.8 401.72,752.6 413.71,756.7 424.3,776 436.29,814.5 448.28,838.5 460.27,822.7 472.26,854.1 484.25,870.4 496.24,868.3 508.23,879.1 520.22,876.4 532.21,873 544.2,849 556.19,836.9 568.18,855.1 580.17,815 592.16,777.5 604.15,760.8 616.14,741.1 628.13,743.5 638.72,748.6 650.71,760.8 662.7,753.2 674.69,790.2 686.68,835.9 698.67,859.2 710.66,876.4 722.65,868.3 734.64,872.4 746.63,881.1 758.62,871.4 770.61,877.5 782.6,849 794.59,808.5 806.58,789.2 818.57,780 830.56,777 841.15,780 853.14,803.4 865.13,807.4 877.12,796.3 889.11,801.3 901.1,767.9 913.09,756.1 925.08,756.1 937.07,767.9 949.06,778 961.05,803.4 973.04,809.9 985.03,796.3 997.02,813.1 1009.01,784.1 1021,775 1032.99,757.7 1044.98,794.2 1055.57,807.4 1067.56,818.6 1079.55,862.2 1091.54,879.5 1103.53,885.2 1115.52,865.3 1127.51,874.4 1139.5,859.2 1151.49,794.2 1163.48,756.7 1175.47,751.6 1187.46,784.1 1199.45,803.4 1211.44,828.7 1223.43,835.9 1235.42,830.8 1247.41,809.9 1258,836.9 1269.99,843 1281.98,857.2 1293.97,871.4 1305.96,867.3 1317.95,866.9 1329.94,860.2 1341.93,851.1 1353.92,847.6 1365.91,852.1 1377.9,847.6 1389.89,858.2 1401.88,861.2 1413.87,806.4 1425.86,759.7" fill="none" stroke="#FF00FF" stroke-width="1.08" stroke-linejoin="round"/>
</g>
<g id="frame" fill="#A60000">
<rect x="2" y="534.7" width="1476" height="1.6"/>
<rect x="2" y="709.8" width="1476" height="2.3" fill="#8E0000"/>
<rect x="2" y="886.9" width="1476" height="2.1" fill="#980000"/>
<rect x="1467.1" y="8" width="2.1" height="703"/>
<rect x="1467.1" y="711" width="3.8" height="178"/>
<rect x="1469" y="63.55" width="8" height="1.3"/>
<rect x="1469" y="143.25" width="8" height="1.3"/>
<rect x="1469" y="222.75" width="8" height="1.3"/>
<rect x="1469" y="302.15" width="8" height="1.3"/>
<rect x="1469" y="380.35" width="8" height="1.3"/>
<rect x="1469" y="459.75" width="8" height="1.3"/>
<rect x="1469" y="593.15" width="8" height="1.3"/>
<rect x="1469" y="650.35" width="8" height="1.3"/>
<rect x="1469" y="103.4" width="3.5" height="1.3"/>
<rect x="1469" y="183" width="3.5" height="1.3"/>
<rect x="1469" y="262.45" width="3.5" height="1.3"/>
<rect x="1469" y="341.25" width="3.5" height="1.3"/>
<rect x="1469" y="420.05" width="3.5" height="1.3"/>
<rect x="1469" y="621.75" width="3.5" height="1.3"/>
</g>
<rect x="1469" y="687.6" width="9" height="1.8" fill="#A60000"/>
<polyline points="1472.2,692.6 1478,699 1472.2,705.4" fill="none" stroke="#E02020" stroke-width="1.5"/>
<polygon points="1435.2,14.4 1443.2,22.35 1435.2,30.3 1427.2,22.35" fill="none" stroke="#A60000" stroke-width="1.3"/>
<rect x="1450" y="14.6" width="14" height="15.3" fill="none" stroke="#A60000" stroke-width="1.4"/>
<line x1="1459.1" y1="14.6" x2="1459.1" y2="29.9" stroke="#A60000" stroke-width="1.3"/>
<rect x="1411.9" y="34.9" width="5" height="3.2" fill="#FF00FF"/><rect x="1423.8" y="34.9" width="5.1" height="3.2" fill="#FF00FF"/>
<polygon points="2,445.5 14.5,462.3 14.5,507.6 2,527" fill="#3A3A3A" fill-opacity="0.88" stroke="#666666" stroke-width="1.4"/>
<polygon points="3.6,477.8 11,485 3.6,492" fill="#E8A000"/>
<rect x="0" y="0" width="1478" height="8.6" fill="url(#tg)"/>
<rect x="580.5" y="0" width="57.5" height="4.6" fill="#E6E6E6"/><rect x="648" y="0" width="57" height="4.6" fill="#E6E6E6"/><rect x="638.5" y="0" width="9" height="4.6" fill="#C0C0C0"/>
<rect x="0" y="0" width="2" height="889" fill="#EAEAEA"/>
<g stroke="#C0C0C0" stroke-width="1.2" fill="none">
<polyline points="132.5,128.6 127.3,128.6 127.3,132.4 144.5,135.4"/>
<line x1="1382" y1="508" x2="1411.5" y2="508"/>
<line x1="1416.5" y1="446.6" x2="1467" y2="446.6"/>
</g>
<text x="148.6" y="144.6" class="an">2915.30</text>
<text x="1318.8" y="516.3" class="an" style="font-size:17.3px">2440.91</text>
<text x="1420.5" y="468.4" class="an">2515.</text>
<text transform="translate(0,29.6) scale(1,1.125)" y="0" class="cj" fill="#C8C8C8"><tspan x="2.6 20.9 39.2 56.9">上证指数</tspan><tspan class="pl" x="76.6">(</tspan><tspan x="81.4 98.6">日线</tspan><tspan class="pl" x="117.6">.</tspan><tspan x="121.4 139.9 157.8">前复权</tspan><tspan class="pl" x="175.2">)</tspan></text>
<polygon points="197.7,11.9 199.3,11.9 206.4,20 206.4,21.6 202.1,21.6 202.1,29.3 194.9,29.3 194.9,21.6 190.6,21.6 190.6,20" fill="#FF0000"/>
<text x="210.6" y="27.6" class="t" fill="#FFFFFF">MA5: 2494.30</text>
<text x="328" y="27.6" class="t" style="font-size:17.9px" fill="#FFFF00">MA10: 2500.10</text>
<text x="458" y="27.6" class="t" fill="#FF00FF">MA20: 2543.80</text>
<text x="586" y="27.6" class="t" style="font-size:17.9px" fill="#00E600">MA250: 2940.17</text>
<text x="3.9" y="554.0" class="t" style="font-size:17.85px" fill="#FFFFFF">VOLUME: 177305008.00</text>
<text x="211.8" y="554.0" class="t" style="font-size:18.1px" fill="#FFFFFF">MA5: 139951488.00</text>
<text x="382.6" y="554.0" class="t" style="font-size:18.2px" fill="#FFFF00">MA10: 129764552.00</text>
<text x="2.3" y="729.7" class="t" style="font-size:18.1px" fill="#D8D8D8">KDJ(9,3,3)</text>
<text x="96.3" y="729.7" class="t" fill="#FFFFFF">K: 55.90</text>
<text x="170.9" y="729.7" class="t" style="font-size:17.5px" fill="#FFFF00">D: 34.01</text>
<text x="247.5" y="729.7" class="t" style="font-size:18px" fill="#FF00FF">J: 99.69</text>
</svg></body></html>
